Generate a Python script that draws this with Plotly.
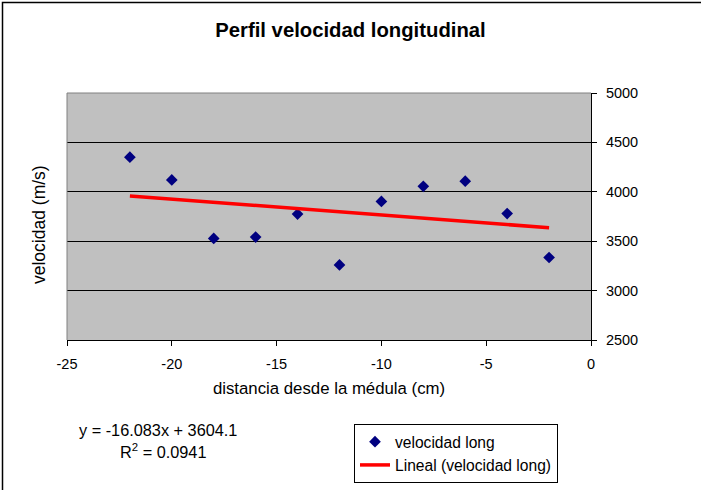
import plotly.graph_objects as go

# ---- data ----
distancia = [-22, -20, -18, -16, -14, -12, -10, -8, -6, -4, -2]
velocidad = [4350, 4120, 3528, 3542, 3775, 3260, 3903, 4055, 4108, 3780, 3335]
trend_slope = -16.083
trend_intercept = 3604.1
r2 = 0.0941
x_ticks = [-25, -20, -15, -10, -5, 0]
x_tick_labels = ["-25", "-20", "-15", "-10", "-5", "0"]
y_ticks = [2500, 3000, 3500, 4000, 4500, 5000]
y_tick_labels = ["2500", "3000", "3500", "4000", "4500", "5000"]

W, H = 701, 490
L, R, T, B = 67, 110, 93, 150
PW, PH = W - L - R, H - T - B

def px(x):
    return (x - L) / PW

def py(y):
    return (H - B - y) / PH

FONT = "Liberation Sans, Arial, sans-serif"

trend_x = [min(distancia), max(distancia)]
trend_y = [trend_slope * v + trend_intercept for v in trend_x]

fig = go.Figure()
fig.add_trace(go.Scatter(
    x=distancia, y=velocidad, mode="markers", name="velocidad long",
    marker=dict(symbol="diamond", size=9, color="#000080"),
))
fig.add_trace(go.Scatter(
    x=trend_x, y=trend_y, mode="lines", name="Lineal (velocidad long)",
    line=dict(color="#FF0000", width=3.5),
))

fig.update_layout(
    width=W, height=H,
    margin=dict(l=L, r=R, t=T, b=B, autoexpand=False),
    paper_bgcolor="white",
    plot_bgcolor="#C0C0C0",
    font=dict(family=FONT, color="black", size=14.5),
    title=dict(text="<b>Perfil velocidad longitudinal</b>", x=0.5, xanchor="center",
               y=1 - 30 / H, yanchor="middle", font=dict(size=20.3, family=FONT)),
    xaxis=dict(range=[-25, 0], tickvals=x_ticks, ticktext=x_tick_labels,
               ticks="outside", ticklen=5, ticklabelstandoff=6,
               tickcolor="black", showline=True, linecolor="black", linewidth=1,
               showgrid=False, zeroline=False, tickfont=dict(size=14.5),
               title=dict(text="distancia desde la médula (cm)", font=dict(size=16.8),
                          standoff=10)),
    yaxis=dict(range=[2500, 5000], tickvals=y_ticks, ticktext=y_tick_labels,
               side="right", ticks="outside", ticklabelstandoff=6,
               ticklen=5, tickcolor="black", showline=True, linecolor="black",
               linewidth=1, showgrid=True, gridcolor="black", gridwidth=1,
               zeroline=False, tickfont=dict(size=14.5)),
    showlegend=True,
    legend=dict(xref="container", yref="container", x=354 / W, y=1 - 424 / H,
                xanchor="left", yanchor="top",
                bordercolor="black", borderwidth=1, bgcolor="white",
                font=dict(size=15.6), tracegroupgap=0, itemwidth=30),
)

# plot-area border (top and left, grey)
fig.add_shape(type="line", xref="paper", yref="paper", x0=0, x1=1, y0=1, y1=1,
              line=dict(color="#808080", width=1))
fig.add_shape(type="line", xref="paper", yref="paper", x0=0, x1=0, y0=0, y1=1,
              line=dict(color="#808080", width=1))
# outer chart frame
fig.add_shape(type="rect", xref="paper", yref="paper",
              x0=px(2.5), x1=px(760), y0=py(2.5), y1=py(560),
              line=dict(color="black", width=1.5))

# y-axis title on the left
fig.add_annotation(text="velocidad (m/s)", xref="paper", yref="paper",
                   x=px(39), y=py(225), textangle=-90, showarrow=False,
                   xanchor="center", yanchor="middle", font=dict(size=17.5))
# trendline equation
fig.add_annotation(text=f"y = {trend_slope}x + {trend_intercept}", xref="paper", yref="paper",
                   x=px(157.5), y=py(430), showarrow=False, xanchor="center",
                   yanchor="middle", font=dict(size=16.3))
fig.add_annotation(text=f"R<sup>2</sup> = {r2}", xref="paper", yref="paper",
                   x=px(163), y=py(451), showarrow=False, xanchor="center",
                   yanchor="middle", font=dict(size=16.3))

fig.write_html("out.html")
